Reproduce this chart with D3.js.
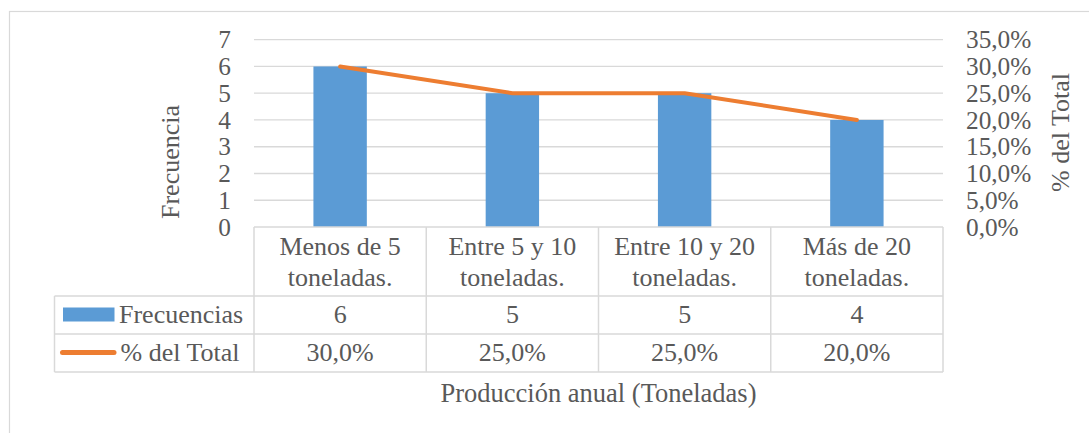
<!DOCTYPE html>
<html><head><meta charset="utf-8">
<script src="https://cdn.jsdelivr.net/npm/d3@7"></script>
<style>
html,body{margin:0;padding:0;background:#fff;}
</style></head>
<body><svg id="c" width="1089" height="433" font-family="'Liberation Serif', 'Times New Roman', Times, serif"></svg>
<script>
const categories = ["Menos de 5 toneladas.", "Entre 5 y 10 toneladas.", "Entre 10 y 20 toneladas.", "Más de 20 toneladas."];
const frecuencias = [6, 5, 5, 4];
const porcentajes = [0.30, 0.25, 0.25, 0.20];
const leftTicks = [0, 1, 2, 3, 4, 5, 6, 7];
const rightTicks = [0, 0.05, 0.10, 0.15, 0.20, 0.25, 0.30, 0.35];
const seriesNames = ["Frecuencias", "% del Total"];

const svg = d3.select("#c");
const grid = "#d9d9d9", blue = "#5B9BD5", orange = "#ED7D31", txt = "#595959";
const fs = 26, fsTick = 25.3;
const locale = d3.formatLocale({decimal: ",", thousands: ".", grouping: [3], currency: ["", ""]});
const pct = locale.format(".1%");

svg.append("rect").attr("x", 9.5).attr("y", 11.5).attr("width", 1085).attr("height", 430)
  .attr("fill", "none").attr("stroke", grid).attr("stroke-width", 1.2);

const L = 254, R = 943, T = 39.7, B = 227;
const x = d3.scaleBand().domain(categories).range([L, R]).padding(0);
const yL = d3.scaleLinear().domain([0, 7]).range([B, T]);
const yR = d3.scaleLinear().domain([0, 0.35]).range([B, T]);

function T_(sel, s) { return sel.attr("fill", txt).attr("font-size", s || fs); }

// gridlines
svg.append("g").selectAll("line").data(leftTicks.slice(1)).join("line")
  .attr("x1", L).attr("x2", R).attr("y1", d => yL(d)).attr("y2", d => yL(d))
  .attr("stroke", grid).attr("stroke-width", 1.3);

// left axis labels
T_(svg.append("g"), fsTick).selectAll("text").data(leftTicks).join("text")
  .attr("x", 231).attr("y", d => yL(d)).attr("dy", "0.34em").attr("text-anchor", "end")
  .text(d => d);

// right axis labels
T_(svg.append("g"), fsTick).selectAll("text").data(rightTicks).join("text")
  .attr("x", 966).attr("y", d => yR(d)).attr("dy", "0.34em").attr("text-anchor", "start")
  .text(d => pct(d));

// axis titles
T_(svg.append("text")).attr("transform", "translate(179,162) rotate(-90)").attr("text-anchor", "middle")
  .text("Frecuencia");
T_(svg.append("text")).attr("transform", "translate(1069,132.5) rotate(-90)").attr("text-anchor", "middle")
  .text("% del Total");

// bars
const bw = x.bandwidth() * 0.31;
svg.append("g").selectAll("rect").data(frecuencias).join("rect")
  .attr("x", (d, i) => x(categories[i]) + x.bandwidth() / 2 - bw / 2)
  .attr("width", bw)
  .attr("y", d => yL(d)).attr("height", d => yL(0) - yL(d))
  .attr("fill", blue);

// line
const line = d3.line().x((d, i) => x(categories[i]) + x.bandwidth() / 2).y(d => yR(d));
svg.append("path").datum(porcentajes).attr("d", line).attr("fill", "none")
  .attr("stroke", orange).attr("stroke-width", 4).attr("stroke-linecap", "round").attr("stroke-linejoin", "round");

// data table
const r1 = 296, r2 = 334, r3 = 372, TL = 54.5;
const tb = svg.append("g").attr("stroke", grid).attr("stroke-width", 1.5);
tb.append("line").attr("x1", L).attr("x2", R).attr("y1", B).attr("y2", B);
[r1, r2, r3].forEach(yy => tb.append("line").attr("x1", TL).attr("x2", R).attr("y1", yy).attr("y2", yy));
tb.append("line").attr("x1", TL).attr("x2", TL).attr("y1", r1).attr("y2", r3);
categories.forEach(c => tb.append("line").attr("x1", x(c)).attr("x2", x(c)).attr("y1", B).attr("y2", r3));
tb.append("line").attr("x1", R).attr("x2", R).attr("y1", B).attr("y2", r3);

// category labels
categories.forEach(c => {
  const idx = c.lastIndexOf(" toneladas.");
  const lines = [c.slice(0, idx), c.slice(idx + 1)];
  const cx = x(c) + x.bandwidth() / 2;
  const t = T_(svg.append("text")).attr("text-anchor", "middle");
  t.append("tspan").attr("x", cx).attr("y", 254.5).text(lines[0]);
  t.append("tspan").attr("x", cx).attr("y", 285.5).text(lines[1]);
});

// row values
T_(svg.append("g")).selectAll("text").data(frecuencias).join("text")
  .attr("x", (d, i) => x(categories[i]) + x.bandwidth() / 2).attr("y", 322.5)
  .attr("text-anchor", "middle").text(d => d);
T_(svg.append("g")).selectAll("text").data(porcentajes).join("text")
  .attr("x", (d, i) => x(categories[i]) + x.bandwidth() / 2).attr("y", 361)
  .attr("text-anchor", "middle").text(d => pct(d));

// legend keys
svg.append("rect").attr("x", 63).attr("y", 307.5).attr("width", 51.5).attr("height", 14).attr("fill", blue);
svg.append("line").attr("x1", 62.5).attr("x2", 114).attr("y1", 352.5).attr("y2", 352.5)
  .attr("stroke", orange).attr("stroke-width", 5).attr("stroke-linecap", "round");
T_(svg.append("text")).attr("x", 119).attr("y", 322.5).text(seriesNames[0]);
T_(svg.append("text")).attr("x", 120.5).attr("y", 361).text(seriesNames[1]);

// x axis title
T_(svg.append("text"), 26.5).attr("x", (L + R) / 2).attr("y", 402).attr("text-anchor", "middle")
  .text("Producción anual (Toneladas)");
</script></body></html>
